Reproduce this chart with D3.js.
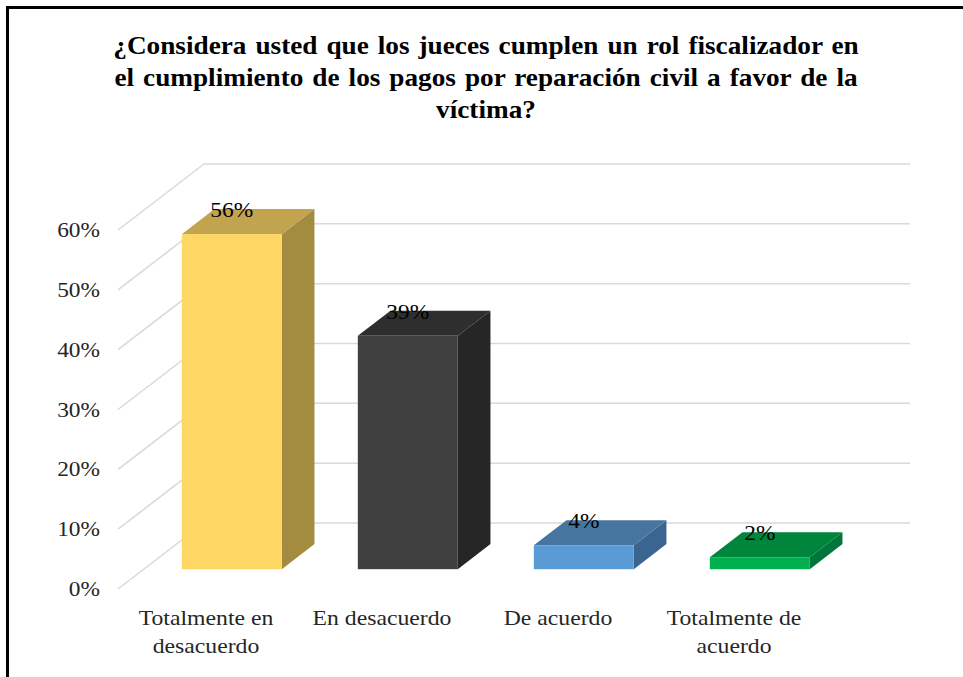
<!DOCTYPE html>
<html>
<head>
<meta charset="utf-8">
<script src="https://cdn.jsdelivr.net/npm/d3@7"></script>
<style>
  body { margin: 0; background: #fff; }
</style>
</head>
<body>
<svg id="svg"></svg>
<script>

const width = 963;
const height = 677;
const serif = "'Liberation Serif', 'Times New Roman', Times, serif";

// data
const categories = ["Totalmente en desacuerdo", "En desacuerdo", "De acuerdo", "Totalmente de acuerdo"];
const catLines = [["Totalmente en", "desacuerdo"], ["En desacuerdo"], ["De acuerdo"], ["Totalmente de", "acuerdo"]];
const values = [0.56, 0.39, 0.04, 0.02];
const valueLabels = ["56%", "39%", "4%", "2%"];
const yTicks = [0, 0.1, 0.2, 0.3, 0.4, 0.5, 0.6];
const titleLines = [
	"¿Considera usted que los jueces cumplen un rol fiscalizador en",
	"el cumplimiento de los pagos por reparación civil a favor de la",
	"víctima?"
];

// colours per bar: front, top, side
const colors = [
	{ front: "#FDD664", top: "#C2A44E", side: "#A38B3F" },
	{ front: "#404040", top: "#2E2E2E", side: "#262626" },
	{ front: "#5B9BD5", top: "#4675A0", side: "#3A6590" },
	{ front: "#00B050", top: "#00853C", side: "#00763A" }
];

// 3d depth of the floor
const depthX = 86;
const depthY = -66;
const barFront = 0.3;
const barBack = 0.68;

// the original picture is stretched sideways a bit
const stretch = 1.17;

const svg = d3.select("#svg")
	.attr("width", width)
	.attr("height", height)
	.attr("font-family", serif);

svg.append("rect")
	.attr("x", 7.5).attr("y", 7.5)
	.attr("width", 1200).attr("height", 1200)
	.attr("fill", "#fff")
	.attr("stroke", "#000")
	.attr("stroke-width", 3);

const x = d3.scaleBand()
	.domain(categories)
	.range([118, 822])
	.paddingInner(0.432)
	.paddingOuter(0.216);

const y = d3.scaleLinear()
	.domain([0, 0.6])
	.range([589, 230]);

// text placed at (tx, ty) and stretched horizontally
function stretchedText(parent, tx, ty, sx) {
	return parent.append("g")
		.attr("transform", `translate(${tx},${ty}) scale(${sx},1)`)
		.append("text")
		.attr("font-family", serif);
}

// title
const titleG = svg.append("g");
titleLines.forEach((line, i) => {
	stretchedText(titleG, 486, 54 + i * 32, 1.09)
		.attr("text-anchor", "middle")
		.attr("font-size", 25)
		.attr("font-weight", "bold")
		.attr("word-spacing", i < 2 ? 2 : 0)
		.attr("fill", "#000")
		.text(line);
});

// gridlines: diagonal on the left wall + horizontal on back wall
const grid = svg.append("g").attr("stroke", "#D9D9D9").attr("stroke-width", 1.5);
grid.selectAll("line.diag")
	.data(yTicks)
	.enter().append("line")
	.attr("class", "diag")
	.attr("x1", 118).attr("y1", d => y(d))
	.attr("x2", 118 + depthX).attr("y2", d => y(d) + depthY);
grid.selectAll("line.back")
	.data(yTicks)
	.enter().append("line")
	.attr("class", "back")
	.attr("x1", 118 + depthX).attr("y1", d => y(d) + depthY)
	.attr("x2", 910).attr("y2", d => y(d) + depthY);

// y axis labels
const yAxisG = svg.append("g");
yTicks.forEach(t => {
	stretchedText(yAxisG, 100, y(t), stretch)
		.attr("dy", "0.35em")
		.attr("text-anchor", "end")
		.attr("font-size", 20)
		.attr("fill", "#262626")
		.text(d3.format(".0%")(t));
});

// bars
function pts(arr) {
	return arr.map(p => p.join(",")).join(" ");
}

const barsG = svg.append("g");
values.forEach((v, i) => {
	const g = barsG.append("g");
	const x0 = x(categories[i]) + depthX * barFront;
	const x1 = x0 + x.bandwidth();
	const yb = y(0) + depthY * barFront;
	const yt = y(v) + depthY * barFront;
	const dx = depthX * (barBack - barFront);
	const dy = depthY * (barBack - barFront);
	const c = colors[i];

	g.append("polygon")
		.attr("points", pts([[x1, yt], [x1 + dx, yt + dy], [x1 + dx, yb + dy], [x1, yb]]))
		.attr("fill", c.side);
	g.append("polygon")
		.attr("points", pts([[x0, yt], [x0 + dx, yt + dy], [x1 + dx, yt + dy], [x1, yt]]))
		.attr("fill", c.top);
	g.append("rect")
		.attr("x", x0).attr("y", yt)
		.attr("width", x1 - x0).attr("height", yb - yt)
		.attr("fill", c.front);

	stretchedText(g, x0 + x.bandwidth() / 2, yt - 17, stretch)
		.attr("text-anchor", "middle")
		.attr("font-size", 20)
		.attr("fill", "#000")
		.text(valueLabels[i]);
});

// category labels
const catG = svg.append("g");
categories.forEach((cat, i) => {
	const cx = x(cat) + x.bandwidth() / 2;
	catLines[i].forEach((line, j) => {
		stretchedText(catG, cx, 625 + j * 28, 1.13)
			.attr("text-anchor", "middle")
			.attr("font-size", 21)
			.attr("fill", "#262626")
			.text(line);
	});
});

</script>
</body>
</html>
